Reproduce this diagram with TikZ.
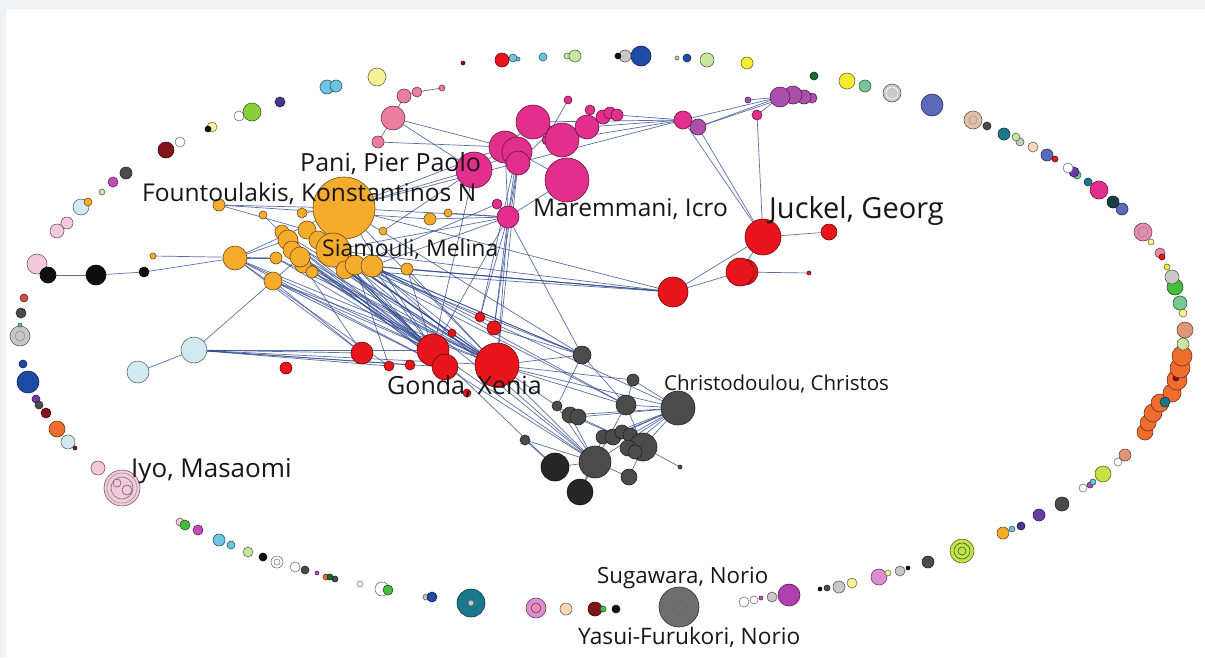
\documentclass[tikz,border=0pt]{standalone}
\usepackage{fontspec}
\setmainfont{Open Sans}
\pgfdeclarelayer{bgl}
\pgfdeclarelayer{edl}
\pgfsetlayers{bgl,edl,main}
\definecolor{edgeblue}{RGB}{50,75,145}
\definecolor{cOrg}{RGB}{245,172,45}
\definecolor{cPnk}{RGB}{226,46,140}
\definecolor{cRed}{RGB}{232,22,28}
\definecolor{cGry}{RGB}{75,75,75}
\definecolor{cDg}{RGB}{38,38,38}
\definecolor{cLb}{RGB}{208,234,240}
\definecolor{cLpk}{RGB}{236,125,160}
\definecolor{cPur}{RGB}{172,78,172}
\definecolor{cBlk}{RGB}{15,15,15}
\definecolor{cYel}{RGB}{248,242,150}
\definecolor{cSky}{RGB}{110,195,225}
\definecolor{cDpur}{RGB}{70,55,140}
\definecolor{cGrn}{RGB}{140,205,60}
\definecolor{cGrn2}{RGB}{70,190,60}
\definecolor{cWht}{RGB}{255,255,255}
\definecolor{cDred}{RGB}{130,20,25}
\definecolor{cMag}{RGB}{195,75,190}
\definecolor{cLgrn}{RGB}{200,230,160}
\definecolor{cPale}{RGB}{245,200,220}
\definecolor{cBlue}{RGB}{30,75,165}
\definecolor{cYel2}{RGB}{245,235,50}
\definecolor{cDgrn}{RGB}{20,110,50}
\definecolor{cMint}{RGB}{120,200,150}
\definecolor{cLgry}{RGB}{200,200,200}
\definecolor{cViol}{RGB}{90,105,185}
\definecolor{cTan}{RGB}{225,190,170}
\definecolor{cTeal}{RGB}{25,120,140}
\definecolor{cPeach}{RGB}{250,215,185}
\definecolor{cDteal}{RGB}{25,60,75}
\definecolor{cRose}{RGB}{232,140,175}
\definecolor{cOran}{RGB}{240,110,45}
\definecolor{cSalm}{RGB}{225,150,120}
\definecolor{cYg}{RGB}{200,225,70}
\definecolor{cPur2}{RGB}{105,60,165}
\definecolor{cOrch}{RGB}{220,140,210}
\definecolor{cMgry}{RGB}{110,110,110}
\definecolor{cPurp}{RGB}{176,64,176}
\definecolor{cBrick}{RGB}{205,80,70}
\definecolor{cCyan}{RGB}{80,200,200}
\definecolor{txt}{RGB}{22,22,22}
\definecolor{frame}{RGB}{239,241,244}
\tikzset{
  gnode/.style={circle,inner sep=0pt,outer sep=0pt,fill=#1,draw=#1!45!black,line width=0.6pt},
  ringc/.style={circle,inner sep=0pt,outer sep=0pt,draw=#1,line width=0.6pt},
  ed/.style={draw=edgeblue,line width=0.7pt,opacity=0.8},
  lab/.style={inner sep=0pt,anchor=west,text=txt}
}
\newcommand{\gn}[4]{\node[gnode=#4,minimum size={2*#3pt}] (#1) at (#2) {};}
\newcommand{\rg}[4]{\node[ringc=#4,minimum size={2*#3pt}] (#1) at (#2) {};}
\begin{document}
\begin{tikzpicture}[x=1pt,y=-1pt]
\useasboundingbox (0,0) rectangle (1205,657);
\begin{pgfonlayer}{bgl}
\fill[frame] (0,0) rectangle (1205,657);
\fill[white] (6,9) rectangle (1205,657);
\end{pgfonlayer}
% ---------- orange cluster
\gn{o11}{235,258}{12}{cOrg}
\gn{o12}{276,258}{6}{cOrg}
\gn{o13}{273,281}{9}{cOrg}
\gn{o14}{407,269}{6}{cOrg}
\gn{o15}{430,219}{6}{cOrg}
\gn{o16}{448,213}{4}{cOrg}
\gn{o17}{383,231}{4}{cOrg}
\gn{o18}{263,215}{4}{cOrg}
\gn{o19}{219,205}{6}{cOrg}
\gn{o20}{302,213}{5}{cOrg}
\gn{o21}{153,256}{3}{cOrg}
\gn{o1}{344,208}{31}{cOrg}
\gn{o22}{282,232}{7}{cOrg}
\gn{o2}{307,230}{9}{cOrg}
\gn{o10}{318,240}{9}{cOrg}
\gn{o3}{288,240}{10}{cOrg}
\gn{o4}{292,250}{9}{cOrg}
\gn{o9}{303,265}{8}{cOrg}
\gn{o5}{300,257}{10}{cOrg}
\gn{o23}{312,272}{6}{cOrg}
\gn{o6}{333,250}{17}{cOrg}
\gn{o24}{345,270}{9}{cOrg}
\gn{o7}{355,265}{10}{cOrg}
\gn{o8}{372,266}{11}{cOrg}
% ---------- pink cluster
\gn{q2}{378,142}{6}{cLpk}
\gn{q1}{393,118}{12}{cLpk}
\gn{q3}{404,96}{7}{cLpk}
\gn{q4}{417,92}{5}{cLpk}
\gn{q5}{442,88}{3}{cLpk}
\gn{p13}{568,100}{4}{cPnk}
\gn{p16}{550,132}{6}{cPnk}
\gn{p17}{547,140}{5}{cPnk}
\gn{p1}{533,122}{17}{cPnk}
\gn{p6}{562,140}{17}{cPnk}
\gn{p9}{590,110}{5}{cPnk}
\gn{p8}{587,127}{12}{cPnk}
\gn{p10}{603,117}{7}{cPnk}
\gn{p11}{610,113}{6}{cPnk}
\gn{p12}{617,115}{6}{cPnk}
\gn{p2}{505,147}{16}{cPnk}
\gn{p3}{517,152}{15}{cPnk}
\gn{p4}{518,163}{12}{cPnk}
\gn{p5}{474,170}{18}{cPnk}
\gn{p7}{567,180}{22}{cPnk}
\gn{p15}{497,204}{5}{cPnk}
\gn{p14}{508,217}{11}{cPnk}
\gn{p18}{683,120}{9}{cPnk}
\gn{p19}{757,115}{5}{cPnk}
\gn{u1}{698,127}{8}{cPur}
\gn{u2}{748,100}{3}{cPur}
\gn{u6}{812,98}{5}{cPur}
\gn{u5}{804,97}{7}{cPur}
\gn{u4}{793,95}{9}{cPur}
\gn{u3}{780,97}{10}{cPur}
% ---------- red cluster
\gn{r8}{286,368}{6}{cRed}
\gn{r7}{362,353}{11}{cRed}
\gn{r9}{389,366}{5}{cRed}
\gn{r5}{410,365}{5}{cRed}
\gn{r6}{452,333}{4}{cRed}
\gn{r11}{480,317}{5}{cRed}
\gn{r12}{494,328}{7}{cRed}
\gn{r1}{433,350}{16}{cRed}
\gn{r2}{445,367}{13}{cRed}
\gn{r3}{497,365}{22}{cRed}
\gn{r4}{467,393}{4}{cRed}
\gn{j2}{829,232}{8}{cRed}
\gn{j5}{809,273}{2}{cRed}
\gn{j3b}{745,272}{13}{cRed}
\gn{j3}{740,272}{14}{cRed}
\gn{j1}{763,237}{18}{cRed}
\gn{j4}{673,292}{15}{cRed}
% ---------- gray cluster
\gn{g1}{582,355}{9}{cGry}
\gn{g2}{633,380}{6}{cGry}
\gn{g3}{678,408}{17}{cGry}
\gn{g4}{626,405}{10}{cGry}
\gn{g5}{557,406}{5}{cGry}
\gn{g6}{570,415}{8}{cGry}
\gn{g7}{578,417}{8}{cGry}
\gn{g8}{525,440}{5}{cGry}
\gn{g9}{603,437}{7}{cGry}
\gn{g10}{613,437}{8}{cGry}
\gn{g11}{622,432}{7}{cGry}
\gn{g12}{630,435}{7}{cGry}
\gn{g13}{643,447}{14}{cGry}
\gn{g14}{628,448}{8}{cGry}
\gn{g15}{635,452}{7}{cGry}
\gn{g16}{595,462}{16}{cGry}
\gn{g17}{555,467}{14}{cDg}
\gn{g18}{629,477}{8}{cGry}
\gn{g19}{580,492}{13}{cDg}
\gn{g20}{680,467}{2}{cGry}
% ---------- light blue, black chain
\gn{b1}{194,350}{13}{cLb}
\gn{b2}{138,372}{11}{cLb}
\gn{lp}{37,264}{10}{cPale}
\gn{k1}{48,275}{8}{cBlk}
\gn{k2}{96,275}{10}{cBlk}
\gn{k3}{144,272}{5}{cBlk}
% ---------- outer ring
\gn{e1}{377,77}{9}{cYel}
\gn{e2}{327,87}{7}{cSky}
\gn{e3}{336,86}{6}{cSky}
\gn{e4}{280,102}{5}{cDpur}
\gn{e5}{239,116}{5}{cWht}
\gn{e6}{252,112}{9}{cGrn}
\gn{e7}{212,127}{5}{cYel}
\gn{e8}{208,129}{3}{cBlk}
\gn{e9}{180,142}{5}{cWht}
\gn{e10}{166,150}{8}{cDred}
\gn{e11}{126,173}{6}{cGry}
\gn{e12}{113,182}{5}{cMag}
\gn{e13}{102,192}{3}{cLgrn}
\gn{e14}{81,207}{8}{cLb}
\gn{e15}{88,202}{4}{cOrg}
\gn{e16}{67,223}{6}{cPale}
\gn{e17}{57,231}{7}{cPale}
\gn{e18}{24,298}{4}{cBrick}
\gn{e19}{21,313}{5}{cGry}
\gn{e21}{20,336}{10}{cLgry}
\rg{e21r}{20,336}{5}{black!45}
\gn{e20}{20,325}{2}{cCyan}
\gn{e22}{23,364}{4}{cBlue}
\gn{e23}{28,382}{11}{cBlue}
\gn{e24}{36,399}{4}{cPur2}
\gn{e25}{39,405}{4}{cGry}
\gn{e26}{46,413}{5}{cDred}
\gn{e27}{57,429}{8}{cOran}
\gn{e28}{68,442}{7}{cLb}
\gn{e29}{75,448}{2}{cDred}
\gn{e30}{98,468}{7}{cPale}
\gn{e31}{122,488}{18}{cPale}
\rg{e31a}{122,488}{15}{black!40}
\rg{e31b}{122,488}{11}{black!55}
\gn{e31c}{117,483}{4}{cPale}
\gn{e31d}{127,490}{5}{cPale}
\gn{e32}{180,522}{4}{cPale}
\gn{e33}{185,525}{5}{cGrn2}
\gn{e34}{198,530}{5}{cMag}
\gn{e35}{219,540}{6}{cSky}
\gn{e36}{231,545}{4}{cSky}
\gn{e37}{248,552}{5}{cLgrn}
\gn{e38}{263,557}{4}{cBlk}
\gn{e39}{277,562}{6}{cWht}
\rg{e39r}{277,562}{3}{black!50}
\gn{e40}{295,567}{5}{cWht}
\gn{e41}{305,570}{4}{cGry}
\gn{e42}{317,573}{2}{cMag}
\gn{e43}{326,577}{3}{cOran}
\gn{e44}{330,577}{3}{cDgrn}
\gn{e45}{335,579}{3}{cGry}
\gn{e46}{360,584}{3}{cWht}
\gn{e47}{382,589}{7}{cWht}
\gn{e48}{388,590}{5}{cGrn2}
\gn{e49}{426,597}{3}{cLgry}
\gn{e50}{432,597}{5}{cBlue}
\gn{e51}{471,603}{14}{cTeal}
\gn{e51i}{471,603}{3}{cLgry}
\gn{e52}{536,608}{10}{cOrch}
\gn{e52i}{536,608}{5}{cRose}
\gn{e53}{566,609}{6}{cPeach}
\gn{e54}{595,609}{7}{cDred}
\gn{e55}{603,609}{3}{cGrn2}
\gn{e56}{616,609}{4}{cBlk}
\gn{e57}{679,607}{20}{cMgry}
\rg{e57r}{679,607}{7}{black!60}
\gn{e58}{744,602}{5}{cWht}
\gn{e59}{754,600}{4}{cWht}
\gn{e60}{761,598}{2}{cMag}
\gn{e61}{772,597}{5}{cLgry}
\gn{e62}{789,595}{11}{cPurp}
\gn{e64}{820,589}{2}{cBlk}
\gn{e65}{827,588}{3}{cGry}
\gn{e66}{839,587}{6}{cLgry}
\gn{e67}{852,583}{5}{cYel}
\gn{e68}{879,577}{8}{cOrch}
\gn{e69}{888,573}{3}{cYel}
\gn{e70}{900,571}{5}{cLgry}
\gn{e71}{908,568}{2}{cBlk}
\gn{e72}{928,562}{6}{cGry}
\gn{e73}{962,551}{12}{cYg}
\rg{e73a}{962,551}{8}{cDgrn}
\rg{e73b}{962,551}{4}{cDgrn}
\gn{e74}{1003,533}{6}{cOrg}
\gn{e75}{1012,529}{3}{cSky}
\gn{e76}{1021,526}{4}{cDpur}
\gn{e77}{1039,515}{6}{cPur2}
\gn{e78}{1062,504}{7}{cGry}
\gn{e79}{1083,488}{4}{cWht}
\gn{e80}{1090,485}{3}{cPur}
\gn{e81}{1093,482}{3}{cSky}
\gn{e82}{1103,474}{8}{cYg}
\gn{e83}{1118,462}{4}{cWht}
\gn{e84}{1125,455}{6}{cSalm}
\gn{e85}{1145,432}{8}{cOran}
\gn{e86}{1148,423}{8}{cOran}
\gn{e87}{1153,413}{9}{cOran}
\gn{e88}{1160,403}{9}{cOran}
\gn{e90}{1172,393}{9}{cOran}
\gn{e89}{1165,402}{5}{cTeal}
\gn{e91}{1177,380}{10}{cOran}
\gn{e91d}{1176,378}{3}{cDred}
\gn{e92}{1180,368}{10}{cOran}
\gn{e93}{1182,356}{10}{cOran}
\gn{e94}{1183,344}{6}{cLgrn}
\gn{e95}{1185,330}{8}{cSalm}
\gn{e96}{1183,313}{4}{cYel}
\gn{e97}{1180,303}{7}{cMint}
\gn{e98}{1175,287}{8}{cGrn2}
\gn{e99}{1172,277}{7}{cLgry}
\gn{e100}{1167,267}{3}{cYel2}
\gn{e102}{1160,253}{5}{cRose}
\gn{e101}{1162,257}{3}{cRed}
\gn{e103}{1151,242}{3}{cYel}
\gn{e104}{1143,232}{9}{cRose}
\rg{e104r}{1143,232}{5}{black!45}
\gn{e105}{1122,209}{6}{cViol}
\gn{e106}{1113,202}{6}{cDteal}
\gn{e107}{1099,190}{9}{cPnk}
\gn{e108}{1088,182}{4}{cTeal}
\gn{e109}{1077,175}{4}{cMint}
\gn{e110}{1074,172}{5}{cPur2}
\gn{e111}{1068,168}{5}{cWht}
\gn{e112}{1055,159}{3}{cRed}
\gn{e113}{1047,155}{6}{cViol}
\gn{e114}{1033,147}{5}{cPeach}
\gn{e115}{1020,142}{4}{cLgry}
\gn{e116}{1016,137}{4}{cLgrn}
\gn{e117}{1004,134}{6}{cTeal}
\gn{e118}{987,126}{4}{cGry}
\gn{e119}{973,120}{9}{cTan}
\rg{e119r}{973,120}{4}{black!40}
\gn{e120}{932,105}{11}{cViol}
\gn{e121}{892,93}{9}{cLgry}
\rg{e121r}{892,93}{6}{white}
\gn{e122}{865,86}{6}{cMint}
\gn{e123}{847,81}{8}{cYel2}
\gn{e124}{814,76}{4}{cDgrn}
\gn{e125}{747,63}{6}{cYel2}
\gn{e126}{707,60}{7}{cLgrn}
\gn{e127}{687,58}{4}{cBlue}
\gn{e128}{677,58}{2}{cLgry}
\gn{e130}{625,56}{6}{cLgry}
\gn{e129}{641,56}{10}{cBlue}
\gn{e131}{618,56}{3}{cBlk}
\gn{e133}{567,56}{3}{cLgrn}
\gn{e132}{575,56}{6}{cLgrn}
\gn{e134}{543,57}{4}{cSky}
\gn{e135}{518,59}{2}{cSky}
\gn{e136}{513,58}{4}{cSky}
\gn{e137}{502,60}{7}{cRed}
\gn{e138}{463,63}{2}{cDred}
% ---------- labels
\node[lab,font=\fontsize{25}{30}\selectfont] (lPani) at (300,164) {Pani, Pier Paolo};
\node[lab,font=\fontsize{24.5}{29}\selectfont] (lFount) at (142,194) {Fountoulakis, Konstantinos N};
\node[lab,font=\fontsize{23}{27}\selectfont] (lSiam) at (322,249) {Siamouli, Melina};
\node[lab,font=\fontsize{24.5}{29}\selectfont] (lMar) at (533,209) {Maremmani, Icro};
\node[lab,font=\fontsize{29}{34}\selectfont] (lJuck) at (769,211) {Juckel, Georg};
\node[lab,font=\fontsize{25}{30}\selectfont] (lGonda) at (387,387) {Gonda, Xenia};
\node[lab,font=\fontsize{20.5}{24}\selectfont] (lChris) at (664,384) {Christodoulou, Christos};
\node[lab,font=\fontsize{26}{31}\selectfont] (lIyo) at (131,471) {Iyo, Masaomi};
\node[lab,font=\fontsize{22.3}{27}\selectfont] (lSug) at (597,578) {Sugawara, Norio};
\node[lab,font=\fontsize{22.7}{27}\selectfont] (lYas) at (578,637) {Yasui-Furukori, Norio};
% ---------- edges
\begin{pgfonlayer}{edl}
\foreach \a/\b in {k1/k2,k2/k3,k3/o11,o21/o12,b2/b1,b1/o13,b1/r7,b1/r1,b1/r3,b1/r2,b1/r9,b1/r5,
o11/o1,o11/o3,o11/r1,o11/r3,o11/r7,o11/r2,o11/o12,o11/r9,
o13/r1,o13/r3,o13/r7,o13/o5,o13/r2,
o19/o1,o19/o2,o18/o3,o20/o1,o19/o15,
o1/r1,o1/r3,o6/r1,o6/r3,o6/r2,o5/r3,o5/r1,o7/r3,o8/r3,o8/r1,o4/r2,o9/r1,o3/r3,o10/r3,o8/r12,o6/r11,o7/r9,o9/r7,o7/r2,o2/r3,o4/r1,o14/r3,o14/r1,o10/r2,o3/r1,o24/r3,o23/r1,
o2/r1,o5/r2,o9/r3,o10/r1,o22/r1,o22/r3,o3/r2,o24/r1,o23/r3,o12/r3,o12/r1,o6/g1,o8/g16,o1/g1,o7/g4,
o1/p5,o1/p14,o6/p14,o8/p14,o1/p2,o15/p14,o16/p14,o17/p5,o7/p15,
o1/j4,o6/j4,o8/j4,o7/j4,o14/j4,o1/p18,o24/j4,
o8/g1,o6/g16,o8/g4,o7/g1,
p1/p2,p1/p6,p2/p5,p3/p7,p4/p14,p6/p8,p8/p10,p10/p11,p11/p12,p6/p18,p8/p18,p12/p18,p1/p18,p18/u1,p18/u3,u1/u3,u1/u4,p19/u3,u2/u3,p13/p16,p15/p14,p2/p14,p3/p14,p7/p14,p16/p4,p5/p3,
q1/p5,q2/p2,q3/q4,q4/q5,q1/q3,q1/q2,q1/p2,
p14/r3,p14/r11,p14/r1,p4/r3,p14/g1,p4/r12,p5/r1,p14/r12,p3/r11,
u1/j1,p18/j1,p19/j1,
j1/j2,j1/j3,j4/j3,j4/j1,j3/j5,
r3/g1,r3/g4,r3/g3,r3/g16,r1/g17,r3/g6,r12/g1,r11/g3,r3/g2,r2/g16,r1/g16,
g1/g4,g2/g4,g4/g3,g3/g13,g3/g16,g3/g12,g3/g10,g3/g9,g3/g6,g4/g16,g5/g16,g6/g16,g8/g17,g8/g16,g16/g17,g16/g19,g13/g20,g16/g18,g13/g18,g4/g13,g7/g13,g7/g3,g3/g11,g3/g14,g2/g3,g1/g5,g6/g13,g9/g19}
  \draw[ed] (\a) -- (\b);
\end{pgfonlayer}
\end{tikzpicture}
\end{document}
